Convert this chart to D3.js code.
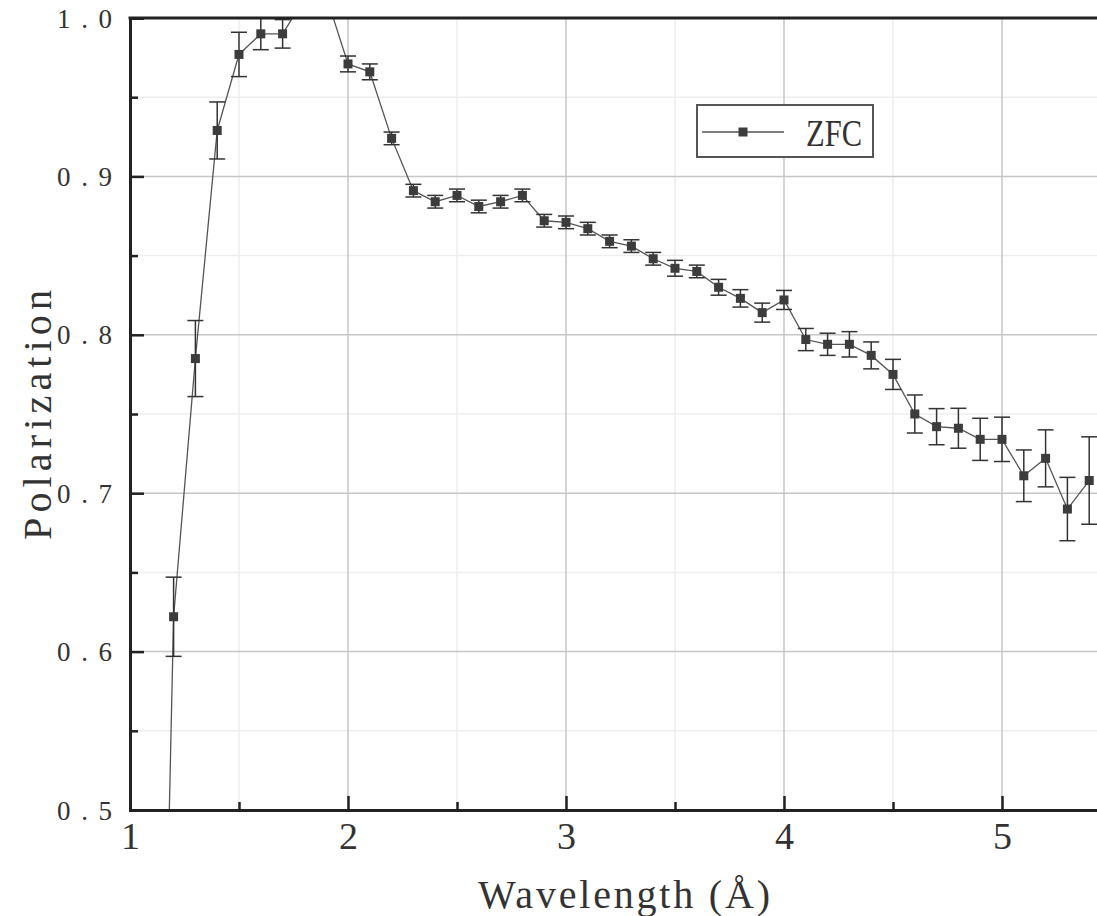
<!DOCTYPE html>
<html>
<head>
<meta charset="utf-8">
<script src="https://cdn.jsdelivr.net/npm/d3@7"></script>
<style>
  body { margin: 0; background: #fff; }
  svg { display: block; }
</style>
</head>
<body>
<div id="chart"></div>
<script>
// wavelength (Å) and polarization
const wavelength = [1.1, 1.2, 1.3, 1.4, 1.5, 1.6, 1.7, 1.8, 1.9, 2.0,
    2.1, 2.2, 2.3, 2.4, 2.5, 2.6, 2.7, 2.8, 2.9, 3.0,
    3.1, 3.2, 3.3, 3.4, 3.5, 3.6, 3.7, 3.8, 3.9, 4.0,
    4.1, 4.2, 4.3, 4.4, 4.5, 4.6, 4.7, 4.8, 4.9, 5.0,
    5.1, 5.2, 5.3, 5.4];
const polarization = [0.0, 0.622, 0.785, 0.929, 0.977, 0.990, 0.990, 1.012, 1.014, 0.971,
    0.966, 0.924, 0.891, 0.884, 0.888, 0.881, 0.884, 0.888, 0.872, 0.871,
    0.867, 0.859, 0.856, 0.848, 0.842, 0.840, 0.830, 0.823, 0.814, 0.822,
    0.797, 0.794, 0.794, 0.787, 0.775, 0.750, 0.742, 0.741, 0.734, 0.734,
    0.711, 0.722, 0.690, 0.708];
const errors = [0.030, 0.025, 0.024, 0.018, 0.014, 0.010, 0.009, 0.008, 0.007, 0.005,
    0.005, 0.004, 0.004, 0.004, 0.004, 0.004, 0.004, 0.004, 0.004, 0.004,
    0.004, 0.004, 0.004, 0.004, 0.005, 0.004, 0.005, 0.0055, 0.006, 0.006,
    0.007, 0.007, 0.008, 0.0085, 0.0095, 0.012, 0.0114, 0.0126, 0.0133, 0.014,
    0.0163, 0.018, 0.020, 0.0276];

const xMajor = [1, 2, 3, 4, 5];
const xMinor = [1.5, 2.5, 3.5, 4.5];
const yMajor = [0.5, 0.6, 0.7, 0.8, 0.9, 1.0];
const yMinor = [0.55, 0.65, 0.75, 0.85, 0.95];
const seriesName = "ZFC";

const width = 1097, height = 916;
const margin = { left: 130, top: 18, bottom: 106 };
const plotRight = 1111; // plot runs past the right edge of the picture

const svg = d3.select("#chart").append("svg")
    .attr("width", width)
    .attr("height", height);

const x = d3.scaleLinear().domain([1, 5.5]).range([margin.left, plotRight]);
const y = d3.scaleLinear().domain([0.5, 1.0]).range([height - margin.bottom, margin.top]);

const serif = "'Liberation Serif', 'DejaVu Serif', serif";

svg.append("defs").append("clipPath").attr("id", "plot-clip")
    .append("rect")
    .attr("x", x(1)).attr("y", y(1.0))
    .attr("width", plotRight - x(1)).attr("height", y(0.5) - y(1.0));

// grid
const grid = svg.append("g").attr("class", "grid");
grid.selectAll(".xminor").data(xMinor).join("line")
    .attr("x1", d => x(d)).attr("x2", d => x(d))
    .attr("y1", y(1.0)).attr("y2", y(0.5))
    .style("stroke", "#eeeeee").style("stroke-width", 1.5);
grid.selectAll(".yminor").data(yMinor).join("line")
    .attr("x1", x(1)).attr("x2", plotRight)
    .attr("y1", d => y(d)).attr("y2", d => y(d))
    .style("stroke", "#eeeeee").style("stroke-width", 1.5);
grid.selectAll(".xmajor").data(xMajor.slice(1)).join("line")
    .attr("x1", d => x(d)).attr("x2", d => x(d))
    .attr("y1", y(1.0)).attr("y2", y(0.5))
    .style("stroke", "#c6c6c6").style("stroke-width", 1.5);
grid.selectAll(".ymajor").data(yMajor.slice(1, -1)).join("line")
    .attr("x1", x(1)).attr("x2", plotRight)
    .attr("y1", d => y(d)).attr("y2", d => y(d))
    .style("stroke", "#c6c6c6").style("stroke-width", 1.5);

// data line, error bars, markers
const pts = wavelength.map((w, i) => ({ w, p: polarization[i], e: errors[i] }));
const data = svg.append("g").attr("clip-path", "url(#plot-clip)");

data.append("path")
    .datum(pts)
    .attr("d", d3.line().x(d => x(d.w)).y(d => y(d.p)))
    .style("fill", "none")
    .style("stroke", "#555")
    .style("stroke-width", 1.3);

const bars = data.selectAll(".err").data(pts).join("g").attr("class", "err");
bars.append("line")
    .attr("x1", d => x(d.w)).attr("x2", d => x(d.w))
    .attr("y1", d => y(d.p - d.e)).attr("y2", d => y(d.p + d.e));
bars.append("line")
    .attr("x1", d => x(d.w) - 8).attr("x2", d => x(d.w) + 8)
    .attr("y1", d => y(d.p + d.e)).attr("y2", d => y(d.p + d.e));
bars.append("line")
    .attr("x1", d => x(d.w) - 8).attr("x2", d => x(d.w) + 8)
    .attr("y1", d => y(d.p - d.e)).attr("y2", d => y(d.p - d.e));
bars.selectAll("line").style("stroke", "#333").style("stroke-width", 1.5);

data.selectAll(".marker").data(pts).join("rect")
    .attr("x", d => x(d.w) - 4.5).attr("y", d => y(d.p) - 4.5)
    .attr("width", 9).attr("height", 9)
    .style("fill", "#3c3c3c");

// axes
const xAxis = svg.append("g")
    .attr("transform", `translate(0,${y(0.5)})`)
    .call(d3.axisBottom(x).tickValues(xMajor).tickSize(-14).tickFormat(d3.format("d")));
svg.append("g")
    .attr("transform", `translate(0,${y(0.5)})`)
    .call(d3.axisBottom(x).tickValues(xMinor).tickSize(-8).tickFormat(""))
    .select(".domain").remove();

const yAxis = svg.append("g")
    .attr("transform", `translate(${x(1)},0)`)
    .call(d3.axisLeft(y).tickValues(yMajor).tickSize(-14).tickFormat(d3.format(".1f")));
svg.append("g")
    .attr("transform", `translate(${x(1)},0)`)
    .call(d3.axisLeft(y).tickValues(yMinor).tickSize(-8).tickFormat(""))
    .select(".domain").remove();

svg.selectAll(".tick line").style("stroke", "#222").style("stroke-width", 2.5);
svg.selectAll(".domain").style("stroke", "#222").style("stroke-width", 3);

xAxis.selectAll(".tick text")
    .attr("y", 0).attr("dy", 0)
    .attr("transform", "translate(0,39)")
    .style("font-family", serif).style("font-size", "38px")
    .style("fill", "#333");

yAxis.selectAll(".tick text")
    .attr("x", -18).attr("dy", 9)
    .attr("textLength", 55).attr("lengthAdjust", "spacing")
    .style("font-family", serif).style("font-size", "27px")
    .style("fill", "#333");

// top frame
svg.append("line")
    .attr("x1", x(1) - 1.5).attr("x2", width)
    .attr("y1", y(1.0)).attr("y2", y(1.0))
    .style("stroke", "#222").style("stroke-width", 3);

// axis titles
svg.append("text")
    .attr("x", 624).attr("y", 908)
    .attr("text-anchor", "middle")
    .attr("textLength", 292).attr("lengthAdjust", "spacing")
    .style("font-family", serif).style("font-size", "40px").style("fill", "#333")
    .text("Wavelength (Å)");

svg.append("text")
    .attr("transform", "translate(51,415) rotate(-90)")
    .attr("text-anchor", "middle")
    .attr("textLength", 250).attr("lengthAdjust", "spacing")
    .style("font-family", serif).style("font-size", "40px").style("fill", "#333")
    .text("Polarization");

// legend
const legend = svg.append("g").attr("transform", "translate(697,105)");
legend.append("rect")
    .attr("width", 176).attr("height", 52)
    .style("fill", "#fff").style("stroke", "#555").style("stroke-width", 2);
legend.append("line")
    .attr("x1", 5).attr("x2", 87).attr("y1", 27).attr("y2", 27)
    .style("stroke", "#555").style("stroke-width", 1.3);
legend.append("rect")
    .attr("x", 41.5).attr("y", 22.5).attr("width", 9).attr("height", 9)
    .style("fill", "#3c3c3c");
legend.append("text")
    .attr("x", 109).attr("y", 41)
    .attr("textLength", 56).attr("lengthAdjust", "spacingAndGlyphs")
    .style("font-family", serif).style("font-size", "38px").style("fill", "#333")
    .text(seriesName);
</script>
</body>
</html>
